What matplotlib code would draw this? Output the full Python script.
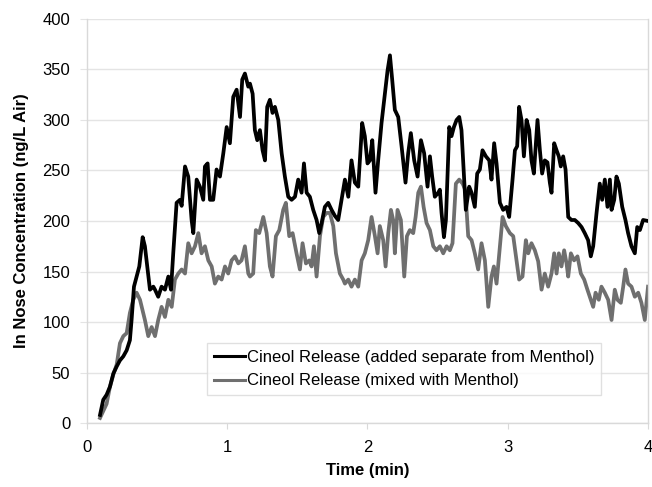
import matplotlib
matplotlib.use("Agg")
import matplotlib.pyplot as plt

plt.rcParams['font.family'] = ['Liberation Sans', 'DejaVu Sans']

# Cineol release (added separate from Menthol)
t_sep = [0.093, 0.116, 0.140, 0.164, 0.188, 0.212, 0.235, 0.259, 0.283, 0.306, 0.318, 0.335, 0.354, 0.373,
         0.397, 0.413, 0.430, 0.449, 0.473, 0.485, 0.508, 0.532, 0.556, 0.580, 0.599, 0.615, 0.639, 0.663,
         0.675, 0.699, 0.722, 0.746, 0.758, 0.782, 0.805, 0.829, 0.841, 0.860, 0.877, 0.900, 0.924, 0.948,
         0.972, 0.996, 1.019, 1.043, 1.067, 1.091, 1.107, 1.126, 1.150, 1.162, 1.181, 1.197, 1.214, 1.233,
         1.252, 1.269, 1.285, 1.304, 1.323, 1.340, 1.364, 1.388, 1.411, 1.435, 1.459, 1.483, 1.506, 1.530,
         1.547, 1.566, 1.589, 1.613, 1.637, 1.656, 1.673, 1.696, 1.720, 1.744, 1.768, 1.791, 1.815, 1.839,
         1.863, 1.886, 1.910, 1.934, 1.962, 1.981, 2.000, 2.017, 2.034, 2.057, 2.076, 2.100, 2.124, 2.143,
         2.160, 2.176, 2.195, 2.219, 2.243, 2.271, 2.290, 2.309, 2.333, 2.357, 2.381, 2.404, 2.428, 2.445,
         2.461, 2.480, 2.504, 2.516, 2.528, 2.545, 2.559, 2.583, 2.599, 2.616, 2.635, 2.654, 2.670, 2.687,
         2.701, 2.725, 2.742, 2.765, 2.782, 2.801, 2.820, 2.844, 2.868, 2.884, 2.903, 2.920, 2.944, 2.967,
         2.991, 3.010, 3.034, 3.051, 3.067, 3.081, 3.098, 3.115, 3.134, 3.153, 3.169, 3.186, 3.212, 3.229,
         3.245, 3.264, 3.283, 3.300, 3.312, 3.331, 3.348, 3.364, 3.378, 3.395, 3.412, 3.431, 3.454, 3.478,
         3.502, 3.526, 3.549, 3.573, 3.592, 3.609, 3.633, 3.656, 3.673, 3.692, 3.711, 3.728, 3.740, 3.759,
         3.775, 3.792, 3.816, 3.839, 3.858, 3.882, 3.906, 3.923, 3.942, 3.965, 4.000]
v_sep = [8, 23, 28, 36, 49, 56, 62, 66, 72, 82, 102, 135, 145, 155,
         184, 175, 155, 132, 135, 132, 125, 135, 132, 145, 132, 168, 218, 221,
         215, 254, 244, 201, 188, 241, 234, 221, 254, 257, 221, 221, 251, 244,
         267, 293, 277, 323, 330, 303, 340, 346, 333, 336, 326, 290, 280, 290,
         270, 260, 313, 320, 307, 313, 300, 267, 244, 224, 221, 224, 241, 228,
         257, 228, 224, 211, 201, 188, 198, 214, 218, 211, 205, 201, 221, 241,
         224, 260, 238, 234, 297, 284, 257, 260, 280, 228, 260, 297, 326, 349,
         364, 340, 310, 303, 274, 238, 267, 287, 260, 244, 280, 267, 234, 264,
         244, 224, 228, 231, 208, 184, 201, 293, 284, 293, 300, 303, 290, 247,
         211, 234, 228, 214, 247, 251, 270, 264, 260, 241, 277, 257, 218, 211,
         214, 204, 241, 270, 274, 313, 300, 264, 300, 290, 260, 247, 300, 270,
         247, 260, 258, 238, 228, 277, 270, 264, 254, 264, 251, 204, 201, 201,
         198, 194, 188, 181, 165, 175, 208, 237, 221, 241, 214, 241, 211, 221,
         244, 237, 214, 201, 188, 175, 168, 194, 191, 201, 200]

# Cineol release (mixed with Menthol)
t_mix = [0.093, 0.140, 0.164, 0.188, 0.212, 0.235, 0.259, 0.283, 0.306, 0.330, 0.354, 0.378, 0.413, 0.437,
         0.461, 0.485, 0.508, 0.532, 0.556, 0.580, 0.604, 0.627, 0.651, 0.675, 0.699, 0.722, 0.746, 0.770,
         0.794, 0.817, 0.841, 0.865, 0.889, 0.912, 0.936, 0.960, 0.984, 1.007, 1.031, 1.055, 1.079, 1.102,
         1.126, 1.150, 1.162, 1.185, 1.204, 1.228, 1.257, 1.281, 1.304, 1.323, 1.347, 1.371, 1.399, 1.418,
         1.442, 1.466, 1.494, 1.518, 1.537, 1.561, 1.585, 1.601, 1.618, 1.637, 1.661, 1.684, 1.708, 1.732,
         1.756, 1.775, 1.803, 1.827, 1.839, 1.863, 1.886, 1.910, 1.934, 1.958, 1.981, 2.005, 2.029, 2.053,
         2.072, 2.088, 2.112, 2.129, 2.148, 2.167, 2.183, 2.195, 2.214, 2.238, 2.262, 2.281, 2.302, 2.326,
         2.343, 2.362, 2.381, 2.400, 2.421, 2.445, 2.469, 2.492, 2.516, 2.540, 2.564, 2.587, 2.606, 2.630,
         2.654, 2.678, 2.697, 2.718, 2.742, 2.765, 2.789, 2.813, 2.837, 2.861, 2.884, 2.901, 2.920, 2.944,
         2.963, 2.986, 3.015, 3.039, 3.062, 3.081, 3.105, 3.129, 3.146, 3.169, 3.193, 3.217, 3.241, 3.264,
         3.288, 3.312, 3.331, 3.348, 3.364, 3.383, 3.402, 3.419, 3.431, 3.450, 3.473, 3.497, 3.521, 3.545,
         3.568, 3.592, 3.609, 3.626, 3.649, 3.668, 3.692, 3.716, 3.740, 3.763, 3.782, 3.806, 3.823, 3.839,
         3.858, 3.882, 3.906, 3.930, 3.953, 3.977, 4.000]
v_mix = [5, 19, 36, 48, 58, 79, 86, 89, 109, 122, 129, 122, 102, 86,
         95, 86, 102, 115, 105, 122, 115, 142, 148, 152, 148, 178, 168, 175,
         188, 168, 175, 161, 155, 138, 145, 142, 155, 148, 161, 165, 158, 161,
         175, 148, 145, 148, 191, 188, 204, 188, 155, 145, 185, 191, 211, 218,
         185, 188, 168, 152, 178, 158, 161, 155, 175, 145, 185, 204, 208, 208,
         195, 168, 148, 142, 138, 142, 135, 142, 135, 161, 168, 181, 204, 185,
         168, 195, 181, 155, 188, 211, 201, 168, 211, 201, 145, 185, 191, 188,
         204, 228, 234, 214, 198, 191, 175, 171, 175, 168, 175, 171, 178, 237,
         241, 237, 231, 185, 181, 168, 152, 178, 161, 115, 145, 155, 138, 175,
         204, 195, 188, 185, 161, 142, 145, 181, 168, 178, 171, 160, 132, 148,
         135, 148, 168, 148, 168, 155, 171, 158, 145, 168, 161, 165, 148, 142,
         132, 122, 115, 129, 122, 135, 129, 122, 102, 132, 122, 119, 135, 152,
         138, 135, 125, 129, 119, 102, 135]

labels = ["Cineol Release (added separate from Menthol)",
          "Cineol Release (mixed with Menthol)"]
x_ticks = [0, 1, 2, 3, 4]
y_ticks = [0, 50, 100, 150, 200, 250, 300, 350, 400]

fig = plt.figure(figsize=(6.52, 4.87), dpi=100)
ax = fig.add_axes([0.1334, 0.1314, 0.8605, 0.8296])

ax.plot(t_sep, v_sep, color='black', lw=2.7, label=labels[0], zorder=3)
ax.plot(t_mix, v_mix, color='#6f6f6f', lw=2.7, label=labels[1], zorder=2)

ax.set_xlim(0, 4)
ax.set_ylim(0, 400)
ax.set_xticks(x_ticks)
ax.set_yticks(y_ticks)
ax.grid(axis='y', color='#e4e4e4', lw=1)
ax.set_axisbelow(True)
for s in ax.spines.values():
    s.set_color('#d9d9d9')
    s.set_linewidth(1)
ax.spines['top'].set_visible(False)
ax.tick_params(axis='x', length=4, color='#d9d9d9', labelsize=12, pad=8)
ax.tick_params(axis='y', length=5, color='#e4e4e4', labelsize=12, pad=7)

ax.set_xlabel("Time (min)", fontsize=12, fontweight='bold', labelpad=6)
ax.set_ylabel("In Nose Concentration (ng/L Air)", fontsize=12, fontweight='bold', labelpad=10)

leg = ax.legend(loc='lower left', bbox_to_anchor=(0.214, 0.069), borderaxespad=0,
                fontsize=12, frameon=True, fancybox=False, edgecolor='#d9d9d9',
                handlelength=1.85, handletextpad=0.15, borderpad=0.4, labelspacing=0.5)
leg.get_frame().set_linewidth(1)
for line in leg.get_lines():
    line.set_linewidth(2.2)

fig.savefig("out.png", dpi=100)
